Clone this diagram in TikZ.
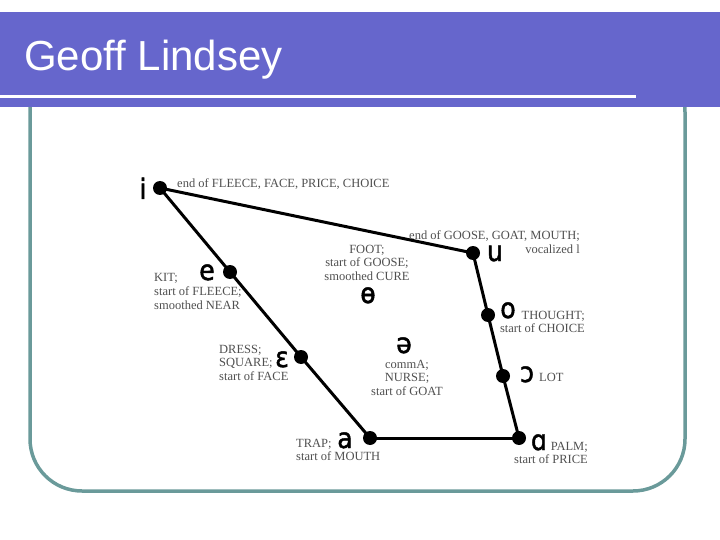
\documentclass[tikz,border=0pt]{standalone}
\usepackage{fontspec}
\setmainfont{Liberation Serif}
\newfontfamily\titlefont{Liberation Sans}
\newfontfamily\ipafont{DejaVu Sans Condensed}[FakeBold=1.6]
\usetikzlibrary{positioning}
\definecolor{barblue}{HTML}{6666CC}
\definecolor{frameteal}{HTML}{6A9A9A}
\definecolor{notegray}{HTML}{4F4F4F}
\tikzset{
  vdot/.style={circle, fill=black, inner sep=0pt, minimum size=14pt},
  chartline/.style={line width=3pt, line cap=round},
  vsym/.style={anchor=base, inner sep=0pt, text depth=0pt,
    font=\ipafont\fontsize{28}{30}\selectfont},
  vnote/.style={inner sep=0pt, text=notegray,
    font=\fontsize{12.5}{13.8}\selectfont},
}

\begin{document}
\begin{tikzpicture}[x=1pt, y=-1pt]
  \useasboundingbox (0,0) rectangle (720,540);
  % slide frame and title bar
  \draw[frameteal, line width=3.5pt, rounded corners=52pt] (30,60) rectangle (685,491);
  \fill[barblue] (0,12) rectangle (720,107);
  \draw[white, line width=2.5pt] (0,96.5) -- (636,96.5);
  \node[anchor=base west, inner sep=0pt, text=white,
    font=\titlefont\fontsize{42}{48}\selectfont] (title) at (24,71) {Geoff Lindsey};

  % vowel points
  \node[vdot] (i)   at (160,188) {};
  \node[vdot] (e)   at (230,272) {};
  \node[vdot] (eps) at (301,357) {};
  \node[vdot] (a)   at (370,438) {};
  \node[vdot] (u)   at (473,253) {};
  \node[vdot] (o)   at (488,315) {};
  \node[vdot] (oo)  at (503,376) {};
  \node[vdot] (ah)  at (519,438) {};
  \foreach \p/\q in {i/u,i/e,e/eps,eps/a,a/ah,u/o,o/oo,oo/ah}
    \draw[chartline] (\p.center) -- (\q.center);

  % symbols
  \node[vsym] (isym)   at (143,199) {i};
  \node[vsym] (esym)   at (207,280) {e};
  \node[vsym] (barsym) at (368,303) {ɵ};
  \node[vsym] (epssym) at (282,367) {ɛ};
  \node[vsym] (schwa)  at (404,353) {ə};
  \node[vsym] (asym)   at (345,448) {a};
  \node[vsym] (usym)   at (495,261) {u};
  \node[vsym] (osym)   at (508,318) {o};
  \node[vsym] (oosym)  at (527,382) {ɔ};
  \node[vsym] (ahsym)  at (539,450) {ɑ};

  % keyword notes
  \node[vnote, anchor=base west] (fleece) at (177,188) {end of FLEECE, FACE, PRICE, CHOICE};
  \node[vnote, anchor=north west, align=left] (kit) at (154,273.6)
    {KIT;\\start of FLEECE;\\smoothed NEAR};
  \node[vnote, anchor=north, align=center] (foot) at (367,244.6)
    {FOOT;\\start of GOOSE;\\smoothed CURE};
  \node[vnote, anchor=north east, align=right] (goose) at (580,230.5)
    {end of GOOSE, GOAT, MOUTH;\\vocalized l};
  \node[vnote, anchor=north east, align=right] (thought) at (585,310.7)
    {THOUGHT;\\start of CHOICE};
  \node[vnote, anchor=base west] (lot) at (539,381) {LOT};
  \node[vnote, anchor=north west, align=left] (dress) at (219,344.7)
    {DRESS;\\SQUARE;\\start of FACE};
  \node[vnote, anchor=north, align=center] (comma) at (407,359.7)
    {commA;\\NURSE;\\start of GOAT};
  \node[vnote, anchor=north west, align=left] (trap) at (296,438.7)
    {TRAP;\\start of MOUTH};
  \node[vnote, anchor=north east, align=right] (palm) at (588,441.7)
    {PALM;\\start of PRICE};
\end{tikzpicture}
\end{document}
